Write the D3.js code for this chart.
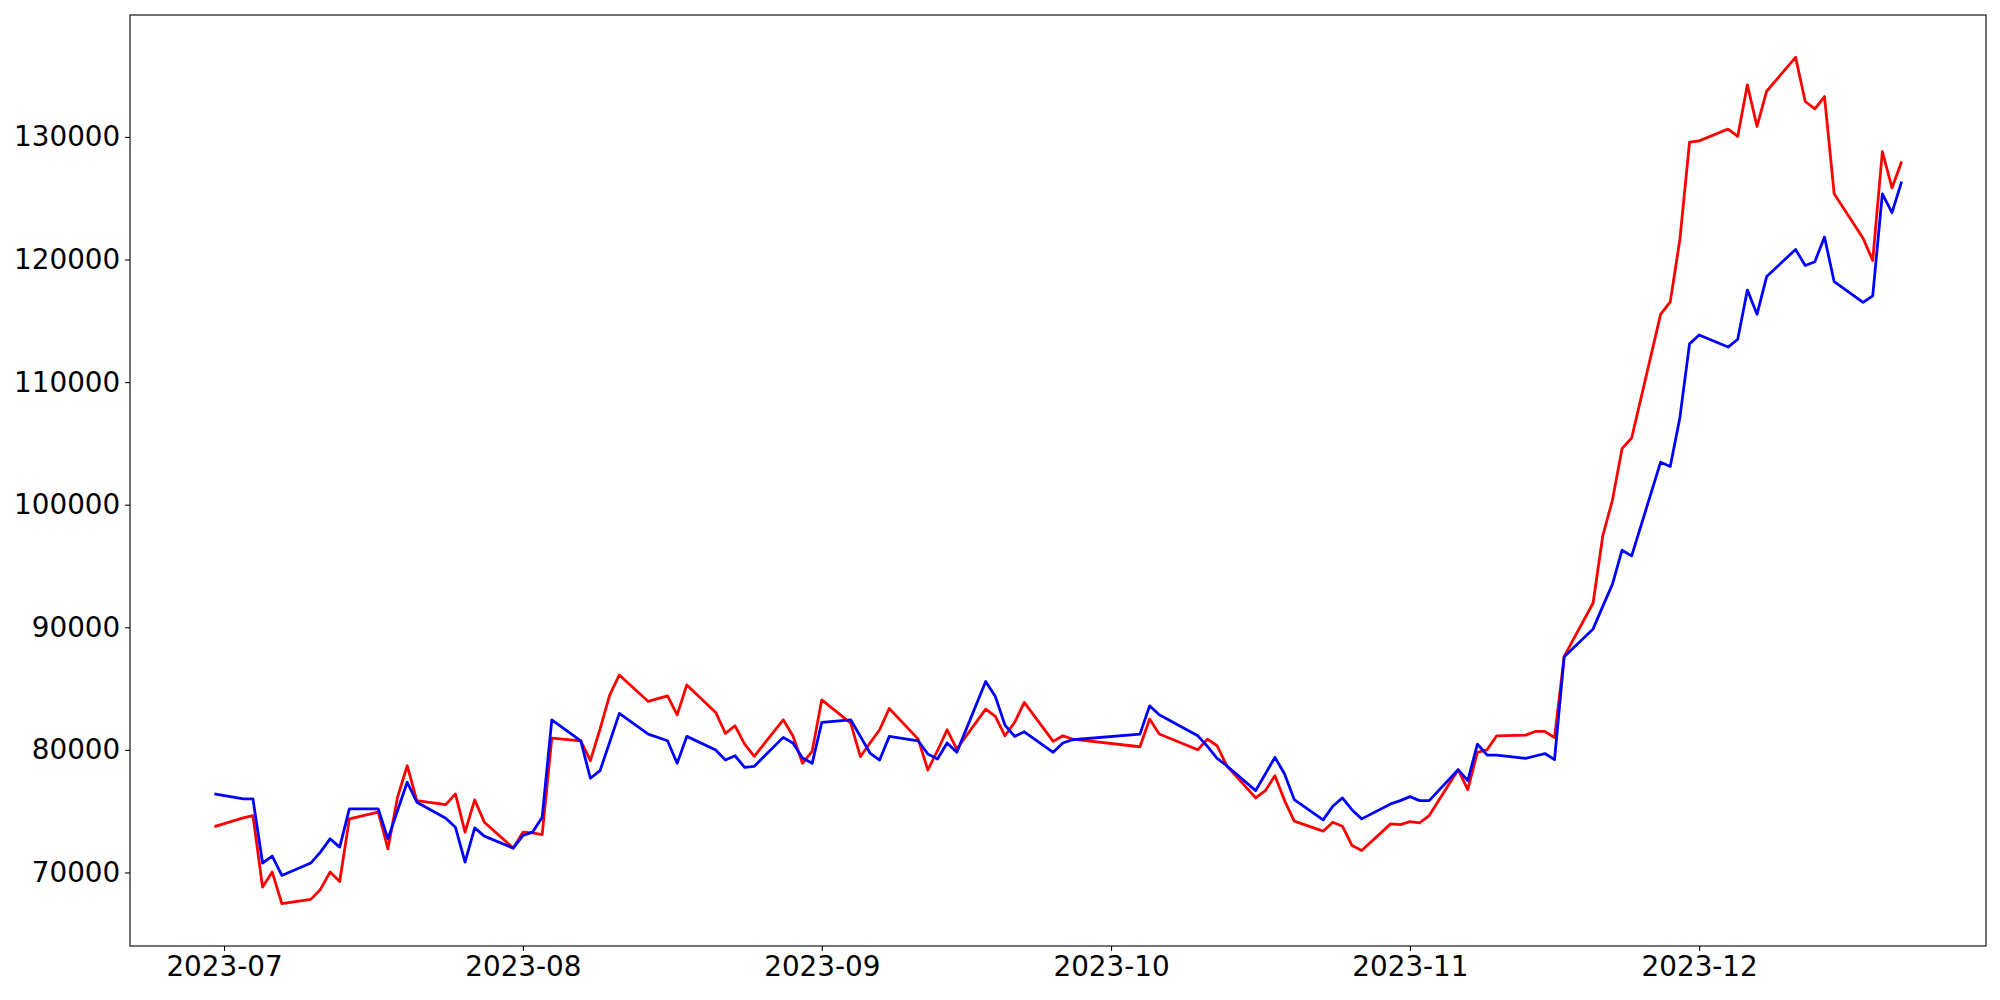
<!DOCTYPE html>
<html>
<head>
<meta charset="utf-8">
<script src="https://cdn.jsdelivr.net/npm/d3@7"></script>
<style>
  body { margin: 0; background: #fff; }
  .tick text { font-family: "DejaVu Sans", sans-serif; font-size: 27.8px; fill: #000; }
</style>
</head>
<body>
<div id="wrapper"></div>
<script>
// trading days, one row per month
const dates = [
  "2023-06-30",
  "2023-07-03","2023-07-04","2023-07-05","2023-07-06","2023-07-07","2023-07-10","2023-07-11","2023-07-12","2023-07-13","2023-07-14",
  "2023-07-17","2023-07-18","2023-07-19","2023-07-20","2023-07-21","2023-07-24","2023-07-25","2023-07-26","2023-07-27","2023-07-28","2023-07-31",
  "2023-08-01","2023-08-02","2023-08-03","2023-08-04","2023-08-07","2023-08-08","2023-08-09","2023-08-10","2023-08-11","2023-08-14","2023-08-16",
  "2023-08-17","2023-08-18","2023-08-21","2023-08-22","2023-08-23","2023-08-24","2023-08-25","2023-08-28","2023-08-29","2023-08-30","2023-08-31",
  "2023-09-01","2023-09-04","2023-09-05","2023-09-06","2023-09-07","2023-09-08","2023-09-11","2023-09-12","2023-09-13","2023-09-14",
  "2023-09-15","2023-09-18","2023-09-19","2023-09-20","2023-09-21","2023-09-22","2023-09-25","2023-09-26","2023-09-27",
  "2023-10-04","2023-10-05","2023-10-06","2023-10-10","2023-10-11","2023-10-12","2023-10-13","2023-10-16","2023-10-17","2023-10-18",
  "2023-10-19","2023-10-20","2023-10-23","2023-10-24","2023-10-25","2023-10-26","2023-10-27","2023-10-30","2023-10-31",
  "2023-11-01","2023-11-02","2023-11-03","2023-11-06","2023-11-07","2023-11-08","2023-11-09","2023-11-10","2023-11-13","2023-11-14","2023-11-15",
  "2023-11-16","2023-11-17","2023-11-20","2023-11-21","2023-11-22","2023-11-23","2023-11-24","2023-11-27","2023-11-28","2023-11-29","2023-11-30",
  "2023-12-01","2023-12-04","2023-12-05","2023-12-06","2023-12-07","2023-12-08","2023-12-11","2023-12-12","2023-12-13","2023-12-14",
  "2023-12-15","2023-12-18","2023-12-19","2023-12-20","2023-12-21","2023-12-22",
]

const redValues = [
  73744,
  74450, 74639, 68812, 70033, 67453, 67802, 68616, 70033, 69268, 74370,
  74916, 71929, 76135, 78708, 75860, 75536, 76405, 73288, 75917, 74102, 71986,
  73288, 73231, 73093, 80963, 80743, 79115, 81700, 84462, 86115, 83950, 84405,
  82859, 85301, 83054, 81345, 81965, 80472, 79473, 82452, 81150, 78904, 79880,
  84080, 82184, 79441, 80556, 81638, 83380, 80879, 78358, 79929, 81638,
  80067, 83323, 82729, 81150, 82240, 83868, 80689, 81150, 80879,
  80255, 82509, 81288, 80011, 80879, 80336, 78708, 76080, 76675, 77894,
  75860, 74183, 73369, 74102, 73776, 72197, 71791, 73964, 73907,
  74151, 74045, 74639, 78383, 76757, 79797, 80011, 81150, 81200, 81500, 81500,
  81000, 87630, 91983, 97452, 100357, 104573, 105444, 115528, 116545, 121632, 129567,
  129681, 130640, 130050, 134248, 130852, 133727, 136494, 132889, 132295, 133296,
  125370, 121740, 119920, 128810, 125840, 127990,
]

const blueValues = [
  76405,
  76000, 76000, 70765, 71335, 69756, 70765, 71660, 72743, 72067, 75184,
  75184, 72743, 75050, 77357, 75730, 74427, 73695, 70847, 73638, 72962, 71986,
  73011, 73288, 74508, 82452, 80743, 77683, 78301, 80621, 82975, 81288, 80743,
  78904, 81101, 79986, 79172, 79520, 78572, 78660, 81020, 80556, 79335, 78904,
  82240, 82452, 81100, 79741, 79172, 81101, 80743, 79661, 79254, 80556,
  79797, 85578, 84357, 82021, 81101, 81476, 79797, 80556, 80825,
  81288, 83592, 82859, 81150, 80287, 79310, 78708, 76675, 78033, 79392,
  78033, 75941, 74289, 75404, 76080, 75103, 74370, 75591, 75860,
  76185, 75860, 75860, 78383, 77488, 80472, 79580, 79580, 79300, 79500, 79700,
  79200, 87600, 89867, 91706, 93497, 96287, 95822, 103467, 103118, 107097, 113119,
  113843, 112858, 113493, 117505, 115528, 118610, 120817, 119510, 119820, 121840,
  118190, 116500, 117030, 125350, 123820, 126360,
]

const yTicks = [70000, 80000, 90000, 100000, 110000, 120000, 130000]
const xTicks = ["2023-07-01", "2023-08-01", "2023-09-01", "2023-10-01", "2023-11-01", "2023-12-01"]

async function drawLines() {

  // 1. Access data

  const parseDate = d3.utcParse("%Y-%m-%d")
  const series = [
    { color: "red", values: redValues },
    { color: "blue", values: blueValues },
  ].map(s => ({
    color: s.color,
    points: s.values.map((v, i) => ({ date: parseDate(dates[i]), value: v })),
  }))

  const xAccessor = d => d.date
  const yAccessor = d => d.value

  // 2. Create chart dimensions

  let dimensions = {
    width: 2000,
    height: 1000,
    margin: {
      top: 15,
      right: 14,
      bottom: 54,
      left: 130,
    },
  }
  dimensions.boundedWidth = dimensions.width - dimensions.margin.left - dimensions.margin.right
  dimensions.boundedHeight = dimensions.height - dimensions.margin.top - dimensions.margin.bottom

  // 3. Draw canvas

  const wrapper = d3.select("#wrapper")
    .append("svg")
      .attr("width", dimensions.width)
      .attr("height", dimensions.height)

  const bounds = wrapper.append("g")
      .attr("transform", `translate(${dimensions.margin.left}, ${dimensions.margin.top})`)

  // 4. Create scales (matplotlib style 5% margins)

  const allPoints = series.flatMap(s => s.points)
  const pad = ([a, b]) => {
    const m = (b - a) * 0.05
    return [a - m, b + m]
  }

  const [x0, x1] = d3.extent(allPoints, xAccessor)
  const xScale = d3.scaleUtc()
    .domain(pad([+x0, +x1]).map(t => new Date(t)))
    .range([0, dimensions.boundedWidth])

  const yScale = d3.scaleLinear()
    .domain(pad(d3.extent(allPoints, yAccessor)))
    .range([dimensions.boundedHeight, 0])

  // 5. Draw data

  const lineGenerator = d3.line()
    .x(d => xScale(xAccessor(d)))
    .y(d => yScale(yAccessor(d)))

  bounds.selectAll(".series")
    .data(series)
    .join("path")
      .attr("class", "series")
      .attr("d", d => lineGenerator(d.points))
      .attr("fill", "none")
      .attr("stroke", d => d.color)
      .attr("stroke-width", 2.78)
      .attr("stroke-linejoin", "round")

  // 6. Draw peripherals

  const xAxisGenerator = d3.axisBottom()
    .scale(xScale)
    .tickValues(xTicks.map(parseDate))
    .tickFormat(d3.utcFormat("%Y-%m"))
    .tickSizeInner(4.9)
    .tickSizeOuter(0)
    .tickPadding(4.9)

  const xAxis = bounds.append("g")
      .attr("transform", `translate(0, ${dimensions.boundedHeight})`)
      .call(xAxisGenerator)

  const yAxisGenerator = d3.axisLeft()
    .scale(yScale)
    .tickValues(yTicks)
    .tickFormat(d3.format("d"))
    .tickSizeInner(4.9)
    .tickSizeOuter(0)
    .tickPadding(4.9)

  const yAxis = bounds.append("g")
      .call(yAxisGenerator)

  for (const axis of [xAxis, yAxis]) {
    axis.select(".domain").remove()
    axis.selectAll(".tick line").attr("stroke", "#000").attr("stroke-width", 1.1)
    axis.attr("font-family", null).attr("font-size", null)
  }

  // frame around the plot
  bounds.append("rect")
      .attr("width", dimensions.boundedWidth)
      .attr("height", dimensions.boundedHeight)
      .attr("fill", "none")
      .attr("stroke", "#000")
      .attr("stroke-width", 1.1)
}
drawLines()
</script>
</body>
</html>
